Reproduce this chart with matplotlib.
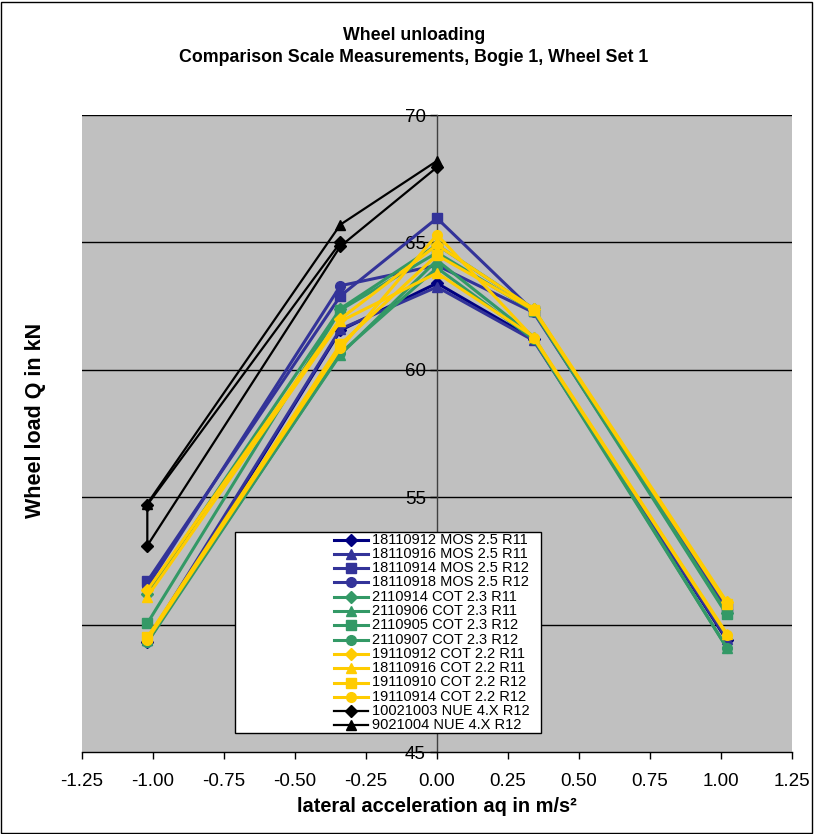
import matplotlib
matplotlib.use("Agg")
import matplotlib.pyplot as plt
from matplotlib.patches import Rectangle
from matplotlib.lines import Line2D

plt.rcParams['font.family'] = ['Liberation Sans', 'DejaVu Sans']

# ---- data ----
x5 = [-1.02, -0.34, 0.0, 0.34, 1.02]

labels = [
    "18110912 MOS 2.5 R11", "18110916 MOS 2.5 R11", "18110914 MOS 2.5 R12", "18110918 MOS 2.5 R12",
    "2110914 COT 2.3 R11", "2110906 COT 2.3 R11", "2110905 COT 2.3 R12", "2110907 COT 2.3 R12",
    "19110912 COT 2.2 R11", "18110916 COT 2.2 R11", "19110910 COT 2.2 R12", "19110914 COT 2.2 R12",
    "10021003 NUE 4.X R12", "9021004 NUE 4.X R12",
]

mos_18110912 = [49.3, 61.55, 63.4, 61.2, 49.4]
mos_18110916 = [49.4, 61.6, 63.25, 61.15, 49.45]
mos_18110914 = [51.7, 62.9, 65.95, 62.3, 50.65]
mos_18110918 = [51.5, 63.3, 64.1, 62.25, 50.6]

cot23_2110914 = [51.2, 62.4, 64.9, 62.4, 50.45]
cot23_2110906 = [49.4, 60.6, 64.3, 61.3, 49.1]
cot23_2110905 = [50.05, 62.35, 64.6, 62.3, 50.4]
cot23_2110907 = [49.3, 60.65, 64.0, 61.2, 49.1]

cot22_19110912 = [51.35, 62.0, 64.9, 62.4, 50.9]
cot22_18110916 = [51.1, 61.9, 63.8, 61.3, 49.65]
cot22_19110910 = [49.5, 61.0, 64.5, 62.35, 50.8]
cot22_19110914 = [49.4, 60.85, 65.3, 61.25, 49.6]

nue_10021003_x = [-0.34, -1.02, -1.02, -0.34, 0.0]
nue_10021003_y = [65.0, 54.7, 53.1, 64.85, 67.95]
nue_9021004_x = [-1.02, -0.34, 0.0]
nue_9021004_y = [54.75, 65.7, 68.2]

series_y = [mos_18110912, mos_18110916, mos_18110914, mos_18110918,
            cot23_2110914, cot23_2110906, cot23_2110905, cot23_2110907,
            cot22_19110912, cot22_18110916, cot22_19110910, cot22_19110914]

colors = ["#000080", "#333399", "#333399", "#333399",
          "#339966", "#339966", "#339966", "#339966",
          "#FFCC00", "#FFCC00", "#FFCC00", "#FFCC00",
          "#000000", "#000000"]
markers = ["D", "^", "s", "o"] * 3 + ["D", "^"]
msizes = {"D": 6, "^": 7, "s": 7, "o": 7}

xticks = [-1.25, -1.00, -0.75, -0.50, -0.25, 0.00, 0.25, 0.50, 0.75, 1.00, 1.25]
yticks = [45, 50, 55, 60, 65, 70]
ytick_labels = ["45", "", "55", "60", "65", "70"]  # "50" is hidden behind the legend

W, H = 814, 834
fig = plt.figure(figsize=(W / 100, H / 100), dpi=100)
fig.patch.set_facecolor("white")
fig.patches.append(Rectangle((1 / W, 1 / H), (W - 3) / W, (H - 3) / H, transform=fig.transFigure,
                             fill=False, edgecolor="black", linewidth=1.0, zorder=0))

L, R, T, B = 82, 792, 115, 752
ax = fig.add_axes([L / W, (H - B) / H, (R - L) / W, (B - T) / H])
ax.set_facecolor("#C0C0C0")
ax.set_xlim(-1.25, 1.25)
ax.set_ylim(45, 70)

for yv in yticks[1:]:
    ax.axhline(yv, color="black", linewidth=1.0, zorder=1)

lines = []
for i, ys in enumerate(series_y):
    m = markers[i]
    ln, = ax.plot(x5, ys, color=colors[i], linewidth=2.2, marker=m, markersize=msizes[m],
                  markeredgecolor=colors[i], markerfacecolor=colors[i], zorder=3 + i * 0.01)
    lines.append(ln)

ln, = ax.plot(nue_10021003_x, nue_10021003_y, color="black", linewidth=1.6, marker="D",
              markersize=6, zorder=4)
lines.append(ln)
ln, = ax.plot(nue_9021004_x, nue_9021004_y, color="black", linewidth=1.6, marker="^",
              markersize=7, zorder=4.01)
lines.append(ln)

# axes styling
for s in ["top", "right"]:
    ax.spines[s].set_visible(False)
ax.spines["left"].set_position(("data", 0))
ax.spines["left"].set_color("#404040")
ax.spines["left"].set_linewidth(1.0)
ax.spines["left"].set_zorder(2)
ax.spines["bottom"].set_color("black")
ax.spines["bottom"].set_linewidth(1.0)

ax.set_xticks(xticks)
ax.set_xticklabels([f"{v:.2f}" for v in xticks], fontsize=13.5)
ax.set_yticks(yticks)
ax.set_yticklabels(ytick_labels, fontsize=13.5)
ax.tick_params(axis="y", direction="out", length=5, width=1, pad=3)
ax.tick_params(axis="x", direction="out", length=5, width=1, pad=10)

ax.set_xlabel("lateral acceleration aq in m/s²", fontsize=14.4, fontweight="bold", labelpad=5)
fig.text(36 / W, 1 - 420 / H, "Wheel load Q in kN", rotation=90, fontsize=15.5,
         fontweight="bold", ha="center", va="center")

fig.text(414 / W, 1 - 36 / H, "Wheel unloading", fontsize=12.8,
         fontweight="bold", ha="center", va="center")
fig.text(414 / W, 1 - 58 / H, "Comparison Scale Measurements, Bogie 1, Wheel Set 1",
         fontsize=12.8, fontweight="bold", ha="center", va="center")

# legend box (drawn manually from the series' own styles)
lx0, lx1, ly0, ly1 = 235, 541, 532, 733
fig.patches.append(Rectangle((lx0 / W, 1 - ly1 / H), (lx1 - lx0) / W, (ly1 - ly0) / H,
                             transform=fig.transFigure, facecolor="white", edgecolor="black",
                             linewidth=1.0, zorder=5))
hx0, hx1, tx = 334, 368, 372
for i, (ln, lab) in enumerate(zip(lines, labels)):
    yp = 1 - (539.5 + i * 14.3) / H
    fig.add_artist(Line2D([hx0 / W, hx1 / W], [yp, yp], transform=fig.transFigure,
                          color=ln.get_color(), linewidth=ln.get_linewidth(), zorder=6))
    fig.add_artist(Line2D([(hx0 + hx1) / 2 / W], [yp], transform=fig.transFigure,
                          color=ln.get_color(), marker=ln.get_marker(),
                          markersize=ln.get_markersize(), linestyle="none", zorder=6.1))
    fig.text(tx / W, yp, lab, fontsize=10.5, ha="left", va="center", zorder=6.2)

fig.savefig("out.png", dpi=100)
